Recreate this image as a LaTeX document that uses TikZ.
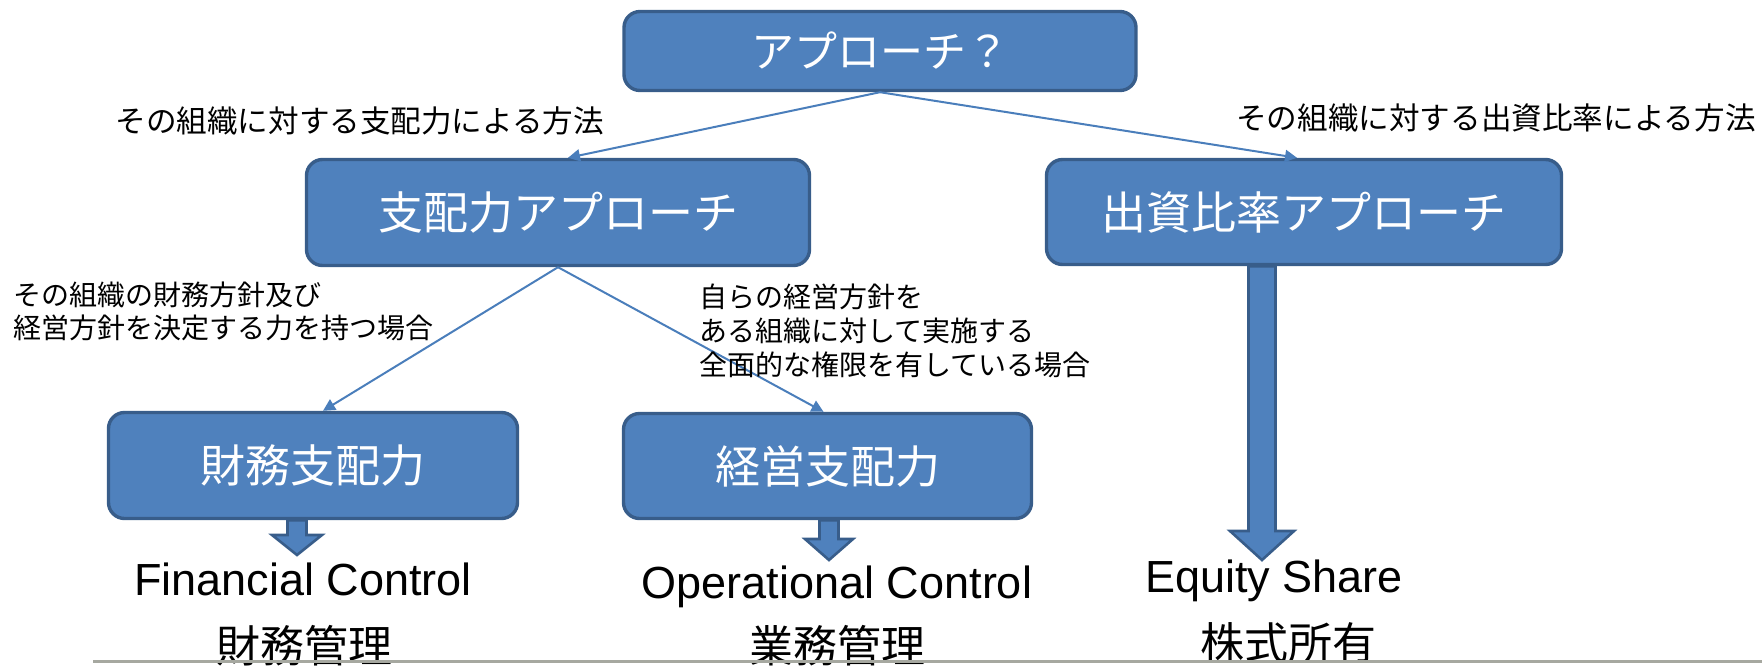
\documentclass[tikz,border=0pt]{standalone}
\usepackage{fontspec}
\setmainfont{Liberation Sans}
\newfontfamily\jafont{Noto Sans CJK JP}
\usetikzlibrary{arrows.meta,calc}

\definecolor{boxfill}{RGB}{79,129,189}
\definecolor{boxline}{RGB}{56,93,138}
\definecolor{linkblue}{RGB}{74,126,187}
\definecolor{rulegray}{RGB}{166,168,160}

\tikzset{
  approach/.style={draw=boxline, fill=boxfill, line width=1.7pt, rounded corners=8pt,
    text=white, inner sep=0pt, font=\jafont\fontsize{22.5}{27}\selectfont},
  link/.style={draw=linkblue, line width=1pt, -{Triangle[length=6pt,width=6pt]}},
  note/.style={inner sep=0pt, align=left, font=\jafont\fontsize{14}{16.5}\selectfont},
  result/.style={inner sep=0pt, font=\fontsize{22.5}{27}\selectfont},
  resultja/.style={inner sep=0pt, font=\jafont\fontsize{22}{26}\selectfont},
  bigarrow/.style={draw=boxline, fill=boxfill, line width=1.3pt, line join=miter},
}

% fat arrow: #1 base, #2 tip, #3 half shaft, #4 half head, #5 head length
\newcommand\blockarrow[5]{%
  \filldraw[bigarrow] ($(#1)+(-#3,0)$) -- ($(#2)+(-#3,-#5)$) -- ($(#2)+(-#4,-#5)$) -- (#2)
    -- ($(#2)+(#4,-#5)$) -- ($(#2)+(#3,-#5)$) -- ($(#1)+(#3,0)$) -- cycle;}

\begin{document}
\begin{tikzpicture}[x=0.5pt, y=-0.5pt]
	\useasboundingbox (0,0) rectangle (1762,665);

	% boxes
	\node[approach, minimum width=256pt, minimum height=39.5pt,
	  font=\jafont\fontsize{21.5}{25}\selectfont] (q) at (880,51) {アプローチ？};
	\node[approach, minimum width=251.5pt, minimum height=53pt] (ctl) at (558,212.5) {支配力アプローチ};
	\node[approach, minimum width=257.5pt, minimum height=52.5pt] (eqa) at (1304,212) {出資比率アプローチ};
	\node[approach, minimum width=204.5pt, minimum height=53pt] (fin) at (313,465.5) {財務支配力};
	\node[approach, minimum width=204pt, minimum height=52.5pt] (ops) at (827.5,466) {経営支配力};

	% thin arrows
	\draw[link] (q.south) -- ([xshift=5pt]ctl.north);
	\draw[link] (q.south) -- ([xshift=-3.5pt]eqa.north);
	\draw[link] (ctl.south) -- ([xshift=5pt]fin.north);
	\draw[link] (ctl.south) -- ([xshift=-2pt]ops.north);

	% labels on the arrows
	\node[note, font=\jafont\fontsize{15.3}{18}\selectfont, anchor=base west] (byctl) at (115,132) {その組織に対する支配力による方法};
	\node[note, font=\jafont\fontsize{15.3}{18}\selectfont, anchor=base east] (byeq) at (1756,129) {その組織に対する出資比率による方法};
	\node[note, anchor=north west] (finnote) at (13,281) {その組織の財務方針及び\\経営方針を決定する力を持つ場合};
	\node[note, font=\jafont\fontsize{14}{17}\selectfont, anchor=north west] (opsnote) at (699,283) {自らの経営方針を\\ある組織に対して実施する\\全面的な権限を有している場合};

	% outcomes
	\node[result, anchor=base] (fc) at (303,595) {Financial Control};
	\node[resultja, anchor=base] (fcja) at (304,662) {財務管理};
	\node[result, anchor=base] (oc) at (837,598) {Operational Control};
	\node[resultja, anchor=base] (ocja) at (837,662) {業務管理};
	\node[result, anchor=base] (es) at (1274,592) {Equity Share};
	\node[resultja, anchor=base] (esja) at (1288,659) {株式所有};

	% fat arrows down to the outcomes
	\coordinate (fintip) at (297,555);
	\coordinate (opstip) at (829,560);
	\coordinate (eqtip) at (1262,560);
	\coordinate (finbase) at (fin.south -| fintip);
	\coordinate (opsbase) at (ops.south -| opstip);
	\coordinate (eqbase) at (eqa.south -| eqtip);
	\blockarrow{finbase}{fintip}{9.5}{25}{20}
	\blockarrow{opsbase}{opstip}{9.5}{24}{21}
	\blockarrow{eqbase}{eqtip}{13.5}{32}{29}

	\draw[rulegray, line width=1.5pt] (93,661) -- (1762,661);
\end{tikzpicture}
\end{document}
